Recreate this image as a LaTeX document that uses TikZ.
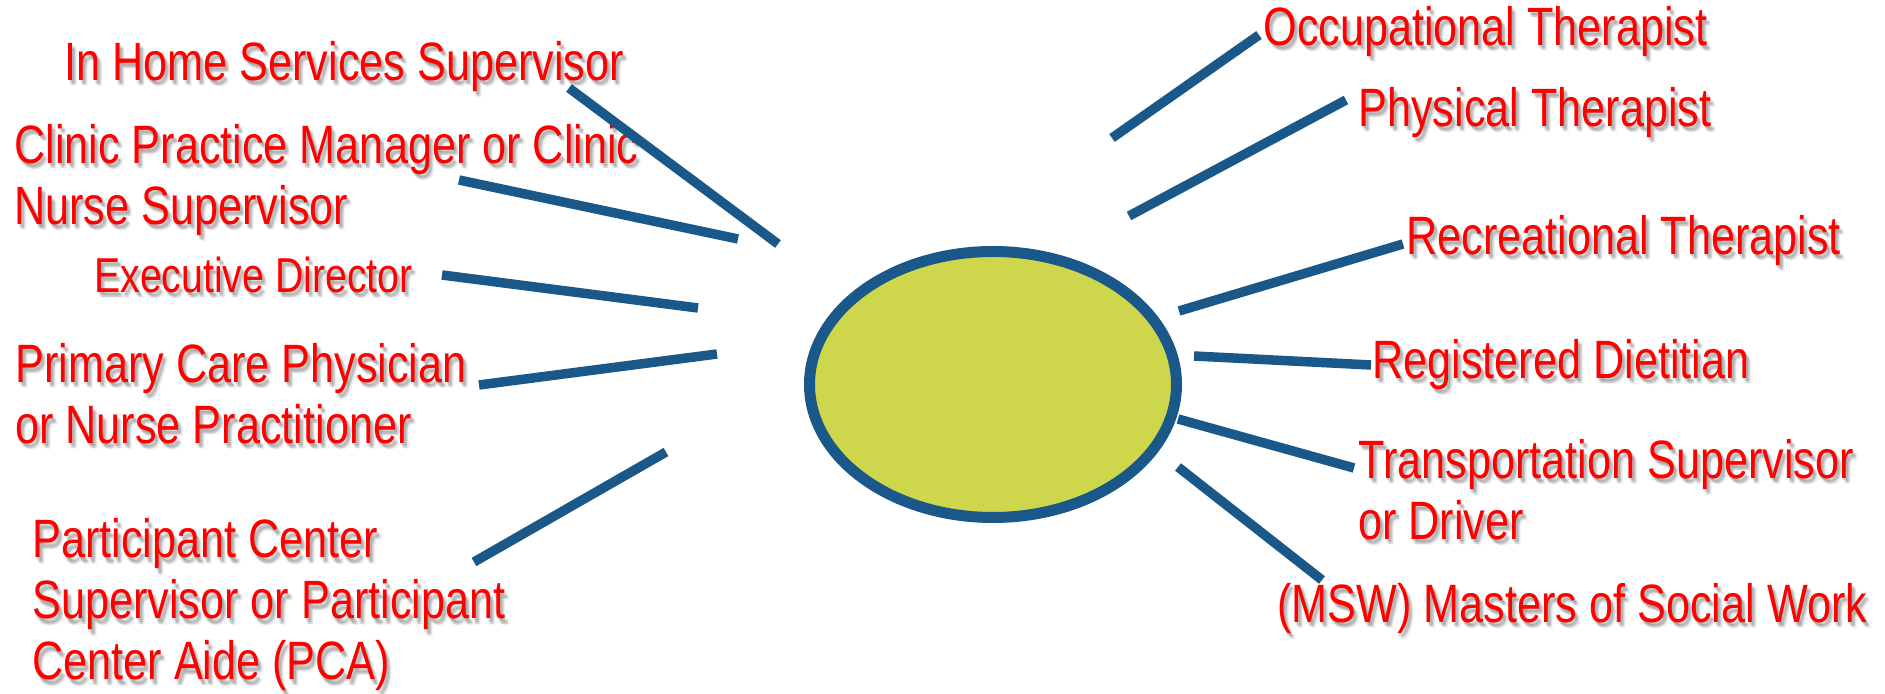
\documentclass[tikz,border=0pt]{standalone}
\usepackage{fontspec}
\setmainfont{Liberation Sans}[FakeStretch=0.8]
\usetikzlibrary{calc,shapes.geometric}

\definecolor{spoke}{RGB}{26,88,137}
\definecolor{hubfill}{RGB}{206,214,76}
\definecolor{labelred}{RGB}{255,0,0}

\tikzset{
  % anchored at the baseline of the label's last line
  role/.style={anchor=base west, inner sep=0pt, align=left, text=labelred,
    font=\fontsize{27}{30.5}\selectfont},
  rolesmall/.style={font=\fontsize{24.5}{28}\selectfont},
  spokeline/.style={draw=spoke, line width=4.75pt},
  hub/.style={ellipse, draw=spoke, fill=hubfill, line width=5.5pt, inner sep=0pt,
    minimum width=183.5pt, minimum height=133pt},
}

% label with a soft grey drop shadow underneath
\newcommand\rolelabel[4][]{%
  \foreach \sx/\sy in {2/3,4/3,3/5,2/5,4/5,3/4,5/6,1/2}
    \node[role,#1,text=black,text opacity=0.05] at ($(#3)+(\sx,\sy)$) {#4};
  \node[role,#1] (#2) at (#3) {#4};
}

\begin{document}
\begin{tikzpicture}[x=0.5pt,y=-0.5pt]
\useasboundingbox (0,0) rectangle (1885,694);

% central hub
\node[hub] (hub) at (993,384.5) {};

% labels
\rolelabel{inhome}{64,81}{In Home Services Supervisor}
\rolelabel{clinic}{14,225}{Clinic Practice Manager or Clinic\\Nurse Supervisor}
\rolelabel[rolesmall]{exec}{94,293}{Executive Director}
\rolelabel{pcp}{15,444}{Primary Care Physician\\or Nurse Practitioner}
\rolelabel{pc}{32,680}{Participant Center\\Supervisor or Participant\\Center Aide (PCA)}
\rolelabel{ot}{1263,46}{Occupational Therapist}
\rolelabel{pt}{1358,127}{Physical Therapist}
\rolelabel{rt}{1406,255}{Recreational Therapist}
\rolelabel{rd}{1372,379}{Registered Dietitian}
\rolelabel{trans}{1358,540}{Transportation Supervisor\\or Driver}
\rolelabel{msw}{1277,623}{(MSW) Masters of Social Work}

% spoke end points
\coordinate (s1a) at (569,88);   \coordinate (s1b) at (778,244);
\coordinate (s2a) at (459,180);  \coordinate (s2b) at (738,239);
\coordinate (s3a) at (442,275);  \coordinate (s3b) at (698,308);
\coordinate (s4a) at (479,385);  \coordinate (s4b) at (717,354);
\coordinate (s5a) at (474,562);  \coordinate (s5b) at (666,452);
\coordinate (s6a) at (1112,138); \coordinate (s6b) at (1259,35);
\coordinate (s7a) at (1129,216); \coordinate (s7b) at (1346,100);
\coordinate (s8a) at (1179,311); \coordinate (s8b) at (1403,244);
\coordinate (s9a) at (1194,356); \coordinate (s9b) at (1371,365);
\coordinate (s10a) at (1178,419); \coordinate (s10b) at (1354,468);
\coordinate (s11a) at (1178,467); \coordinate (s11b) at (1322,580);

% spokes
\foreach \k in {1,...,11}
  \draw[spokeline] (s\k a) -- (s\k b);
\end{tikzpicture}
\end{document}
